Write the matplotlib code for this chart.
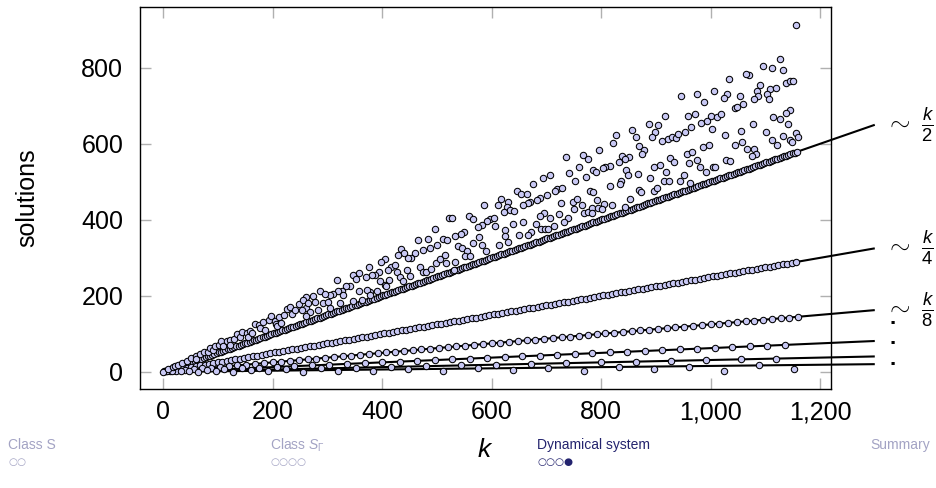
import numpy as np
import matplotlib
matplotlib.use("Agg")
import matplotlib.pyplot as plt
from matplotlib.ticker import StrMethodFormatter

plt.rcParams['font.family'] = ['Liberation Sans', 'DejaVu Sans']
plt.rcParams['mathtext.fontset'] = 'custom'
plt.rcParams['mathtext.rm'] = 'Liberation Sans'
plt.rcParams['mathtext.it'] = 'Liberation Sans:italic'

# rows that sit exactly on k / 2^j : k = 2^j * (odd), last k
row_divisors = [2, 4, 8, 16, 32]
row_last_k = [1158, 1156, 1160, 1136, 1120]

# bottom row (k multiple of 64), values scatter just below k/64
bottom_k = [64, 128, 192, 256, 320, 384, 448, 512, 576, 640, 704, 768,
            832, 896, 960, 1024, 1088, 1152]
bottom_y = [0, 0, 1, 0, 3, 1, 7, 1, 9, 4, 10, 2, 14, 7, 14, 1, 17, 8]

# guide lines ~ k/2^j
line_divisors = [2, 4, 8, 16, 32, 64]
line_end_k = 1300
labelled_divisors = [2, 4, 8]

# the cloud above k/2
cloud_k = [10, 18, 22, 28, 34, 43, 52, 60, 61, 68, 75, 83, 86, 92, 95, 103, 106, 110,
           116, 122, 122, 130, 136, 141, 144, 153, 156, 159, 162, 168, 175, 177, 182, 187,
           194, 198, 205, 207, 209, 212, 215, 221, 227, 232, 235, 241, 249, 262,
           522, 496, 484, 466, 512, 519, 501, 487, 475, 461, 453, 447, 434, 441, 430, 405,
           399, 376, 416, 424, 411, 394, 387, 381, 370, 358, 347, 353, 317, 427, 445, 451,
           469, 475, 481, 490, 498, 506, 515, 517, 396, 413, 405, 391, 378, 372, 433, 439,
           408, 358, 341, 335, 326, 320, 328, 311, 305, 287, 296, 274, 262, 256, 277, 265,
           293, 302, 323, 363, 378, 347, 283, 268, 253, 305, 261,
           736, 767, 777, 760, 742, 772, 707, 694, 676, 647, 653, 665, 720, 729, 716, 701,
           689, 683, 670, 667, 658, 631, 617, 611, 628, 586, 622, 634, 641, 696, 689, 707,
           723, 739, 726, 748, 756, 751, 765, 769, 776, 779, 753, 558, 567, 527, 597, 592,
           605, 606, 582, 575, 639, 657, 681, 691, 698, 704, 715, 733, 672, 667, 651, 625,
           625, 631, 613, 589, 582, 567, 577, 549, 544, 534, 539, 546, 555, 552, 561, 531, 534,
           1034, 976, 1007, 1030, 1024, 946, 988, 917, 959, 971, 982, 994, 1001, 1012, 1019,
           887, 904, 856, 899, 893, 863, 827, 821, 911, 923, 929, 937, 940, 953, 965, 1002,
           1026, 987, 997, 869, 878, 875, 851, 839, 844, 833, 797, 816, 808, 803, 785, 791,
           846, 849, 867, 897, 907, 919, 926, 933, 957, 967, 961, 975, 981, 991, 1004, 1009,
           1029, 951, 945, 963, 915, 924, 890, 897, 903, 870, 873, 837, 835, 817, 786, 792,
           805, 783, 795, 802, 783, 820, 853, 843,
           1156, 1126, 1113, 1132, 1096, 1071, 1065, 1090, 1084, 1109, 1120, 1103, 1107, 1086,
           1079, 1054, 1045, 1049, 1060, 1137, 1145, 1151, 1146, 1137, 1115, 1127, 1142, 1077,
           1056, 1101, 1113, 1122, 1133, 1145, 1157, 1159, 1148, 1066, 1045, 1058, 1079, 1083,
           1075, 1036]
cloud_y = [7, 12, 15, 19, 23, 29, 36, 41, 35, 47, 52, 52, 63, 58, 67, 72, 82, 67,
           80, 85, 72, 87, 100, 91, 104, 102, 93, 107, 102, 126, 124, 115, 131, 111,
           137, 146, 135, 126, 120, 144, 129, 149, 166, 172, 152, 164, 179, 168,
           405, 375, 350, 346, 350, 348, 334, 327, 320, 314, 299, 299, 323, 313, 308, 297,
           289, 275, 277, 282, 269, 262, 256, 254, 250, 260, 256, 245, 242, 264, 269, 253,
           277, 264, 264, 271, 286, 297, 308, 286, 240, 242, 229, 213, 210, 216, 249, 238,
           227, 213, 227, 225, 213, 212, 201, 206, 203, 213, 205, 200, 196, 190, 184, 181,
           181, 184, 181, 190, 203, 187, 163, 157, 163, 168, 146,
           565, 571, 560, 538, 523, 512, 518, 511, 494, 475, 468, 469, 482, 484, 475, 466,
           457, 453, 448, 445, 440, 447, 454, 440, 433, 440, 421, 425, 424, 418, 411, 406,
           415, 406, 444, 447, 455, 429, 438, 418, 420, 475, 501, 411, 401, 404, 402, 396,
           404, 385, 387, 382, 389, 393, 390, 376, 376, 376, 383, 394, 369, 359, 359, 373,
           358, 341, 334, 319, 334, 340, 354, 367, 363, 357, 330, 326, 317, 304, 305, 268, 290,
           770, 732, 740, 732, 720, 727, 709, 673, 674, 679, 654, 661, 673, 671, 678,
           651, 649, 637, 631, 619, 619, 623, 601, 607, 612, 619, 615, 625, 632, 643, 639,
           623, 591, 596, 595, 584, 573, 566, 567, 559, 553, 585, 542, 538, 536, 530, 525,
           531, 517, 520, 538, 545, 525, 564, 552, 573, 578, 549, 557, 538, 525, 538, 538,
           557, 517, 501, 496, 501, 501, 509, 476, 483, 478, 473, 502, 495, 489, 472, 453,
           442, 431, 431, 429, 417, 438, 454, 434,
           913, 823, 799, 793, 805, 782, 784, 755, 740, 744, 747, 731, 719, 725,
           718, 727, 694, 698, 705, 760, 764, 766, 688, 681, 670, 665, 653, 653,
           633, 630, 611, 598, 621, 611, 628, 618, 604, 586, 597, 606, 586, 574,
           567, 556]

face = '#c8c8f4'
tick_grey = '#b0b0b0'

fig = plt.figure(figsize=(9.36, 4.88), dpi=100)
ax = fig.add_axes([0.1496, 0.2029, 0.7382, 0.7828])

for d in line_divisors:
    ax.plot([0, line_end_k], [0, line_end_k / d], color='black', lw=1.5,
            clip_on=False, zorder=2, solid_capstyle='butt')

mk = dict(marker='o', linestyle='none', markersize=4.6, markerfacecolor=face,
          markeredgecolor='black', markeredgewidth=0.75, zorder=3)

for d, last in zip(row_divisors, row_last_k):
    k = np.arange(d, last + 1, 2 * d)
    ax.plot(k, k / d, **mk)
ax.plot(bottom_k, bottom_y, **mk)
ax.plot([0], [0], **mk)
ax.plot(cloud_k, cloud_y, **mk)

ax.set_xlim(-42, 1220)
ax.set_ylim(-45, 960)
ax.set_xticks([0, 200, 400, 600, 800, 1000, 1200])
ax.set_yticks([0, 200, 400, 600, 800])
ax.xaxis.set_major_formatter(StrMethodFormatter('{x:,.0f}'))
ax.tick_params(direction='in', length=8, width=1, color=tick_grey,
               top=True, right=True, labelsize=18)
ax.tick_params(axis='x', pad=8)
ax.tick_params(axis='y', pad=12)
for s in ax.spines.values():
    s.set_linewidth(1.0)

ax.set_xlabel('$k$', fontsize=19, labelpad=10)
ax.set_ylabel('solutions', fontsize=18, labelpad=30)

# labels on the right of the guide lines
for d in labelled_divisors:
    ax.text(1318, line_end_k / d, r'$\sim\ \frac{k}{%d}$' % d, fontsize=19,
            va='center', ha='left', clip_on=False)
ax.text(1332, 87, '.\n.\n.', fontsize=16, fontweight='bold', va='center', ha='center',
        linespacing=0.95, clip_on=False)

# beamer navigation footer
light = '#a3a3c4'
dark = '#23236e'
nav = [('Class S', 8, light, '○○'),
       (r'Class $S_\Gamma$', 270, light, '○○○○'),
       ('Dynamical system', 537, dark, '○○○●'),
       ('Summary', 870, light, '')]
for label, xp, col, dots in nav:
    fig.text(xp / 936, 1 - 445 / 488, label, fontsize=10, color=col,
             va='center', ha='left')
    if dots:
        fig.text(xp / 936, 1 - 462 / 488, dots, fontsize=7.5, color=col,
                 va='center', ha='left', family='DejaVu Sans')

fig.savefig('out.png', dpi=100)
